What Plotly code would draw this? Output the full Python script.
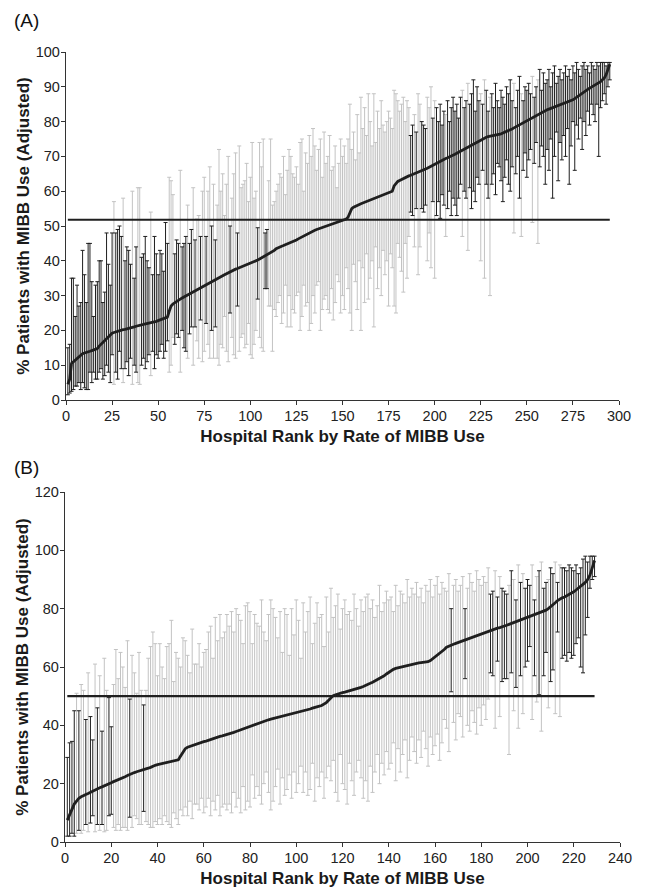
import plotly.graph_objects as go

# ---------------- Panel A data (hospital rank order) ----------------
a_est = [
    4.5, 6, 10.5, 11, 11.5, 12, 12.5, 13, 13.3, 13.5,
    13.6, 13.8, 14, 14.2, 14.4, 14.6, 14.8, 15.5, 16, 16.7,
    17.3, 17.8, 18.3, 18.8, 19.2, 19.4, 19.6, 19.8, 20, 20.1,
    20.2, 20.3, 20.4, 20.5, 20.6, 20.8, 21, 21.2, 21.4, 21.5,
    21.6, 21.7, 21.8, 21.9, 22, 22.1, 22.2, 22.4, 22.6, 22.8,
    23, 23.2, 23.4, 23.6, 23.8, 25.5, 27, 27.6, 28, 28.4,
    28.7, 29, 29.3, 29.6, 29.9, 30.2, 30.5, 30.8, 31.1, 31.4,
    31.7, 32, 32.3, 32.6, 32.9, 33.2, 33.5, 33.8, 34.1, 34.3,
    34.5, 34.8, 35.1, 35.4, 35.7, 36, 36.3, 36.6, 36.9, 37.2,
    37.4, 37.6, 37.8, 38, 38.2, 38.4, 38.6, 38.8, 39, 39.2,
    39.4, 39.6, 39.9, 40.2, 40.5, 40.8, 41.1, 41.4, 41.7, 42,
    42.3, 42.6, 43, 43.5, 43.8, 44, 44.2, 44.4, 44.6, 44.8,
    45, 45.2, 45.5, 45.8, 46, 46.3, 46.6, 46.9, 47.2, 47.5,
    47.8, 48.1, 48.4, 48.6, 48.8, 49, 49.2, 49.4, 49.6, 49.8,
    50, 50.1, 50.2, 50.4, 50.6, 50.8, 51, 51.2, 51.4, 51.6,
    51.8, 52, 52.5, 54, 55, 55.4, 55.7, 56, 56.2, 56.4,
    56.6, 56.8, 57, 57.2, 57.5, 57.8, 58, 58.2, 58.4, 58.6,
    58.8, 59, 59.2, 59.4, 59.6, 59.8, 60, 61.5, 62.3, 62.8,
    63.1, 63.4, 63.7, 64, 64.2, 64.4, 64.6, 64.8, 65, 65.2,
    65.4, 65.6, 65.8, 66, 66.3, 66.6, 66.9, 67.2, 67.5, 67.8,
    68.1, 68.4, 68.7, 69, 69.2, 69.4, 69.6, 69.8, 70, 70.3,
    70.6, 70.9, 71.2, 71.5, 71.8, 72.1, 72.4, 72.7, 73, 73.3,
    73.6, 73.9, 74.2, 74.5, 74.8, 75.1, 75.3, 75.5, 75.7, 75.8,
    75.9, 76, 76.1, 76.2, 76.3, 76.5, 76.7, 76.9, 77.1, 77.3,
    77.6, 77.9, 78.2, 78.5, 78.8, 79.1, 79.4, 79.7, 80, 80.3,
    80.6, 80.9, 81.2, 81.5, 81.8, 82.1, 82.4, 82.7, 83, 83.2,
    83.4, 83.6, 83.8, 84, 84.2, 84.4, 84.6, 84.8, 85, 85.2,
    85.4, 85.6, 85.8, 86, 86.3, 86.6, 87, 87.4, 87.8, 88.2,
    88.6, 89, 89.3, 89.6, 89.9, 90.2, 90.5, 90.8, 91.1, 91.5,
    92, 92.5, 93.5, 95, 96.5,
]
a_hi = [
    15, 16, 35, 35, 24, 33, 27, 28, 43, 36,
    28, 45, 45, 34, 24, 33, 34, 40, 40, 28,
    31, 48, 39, 33, 48, 57, 48, 49, 50, 47,
    58, 40, 44, 43, 39, 60, 35, 44, 61, 61,
    41, 42, 47, 40, 38, 54, 36, 47, 42, 36,
    43, 42, 37, 51, 45, 64, 63, 59, 42, 46,
    45, 66, 44, 45, 47, 56, 45, 49, 61, 46,
    52, 53, 47, 60, 64, 47, 60, 67, 50, 62,
    46, 56, 72, 60, 65, 53, 62, 70, 50, 58,
    65, 71, 48, 73, 61, 62, 63, 68, 57, 64,
    74, 58, 60, 49.5, 74, 67, 75, 48, 49, 63,
    75, 56, 57, 60, 62, 65, 64, 70, 59, 66,
    72, 70, 65, 64, 67, 62, 74, 75, 60, 71,
    68, 76, 70, 78, 73, 66, 72, 75, 64, 77,
    68, 70, 76, 66, 67, 73, 61, 68, 75, 70,
    73, 68, 75, 85, 72, 77, 69, 82, 71, 87,
    78, 84, 76, 88, 80, 73, 88, 74, 83, 78,
    86, 79, 77, 80, 83, 81, 78, 89, 88, 86,
    83, 85, 87, 80, 86, 84, 76, 79, 82, 77,
    88, 85, 80, 79, 78, 87, 84, 90, 81, 86,
    84, 80, 85, 79, 83, 82, 86, 80, 84, 87,
    83, 85, 81, 87, 89, 84, 86, 91, 85, 88,
    92, 83, 90, 86, 88, 85, 92, 89, 83, 87,
    88, 84, 91, 86, 84, 89, 87, 85, 90, 88,
    92, 86, 91, 84, 89, 93, 88, 86, 90, 89,
    91, 88, 93, 87, 90, 92, 95, 89, 94, 91,
    92, 95, 90, 94, 96, 91, 93, 95, 92, 94,
    96, 93, 95, 92, 96, 94, 97, 95, 93, 96,
    97, 95, 96, 94, 97, 96, 95, 97, 96, 97,
    97, 97, 96, 97, 97,
]
a_lo = [
    1.5, 2, 2.5, 3, 4, 4, 5, 3, 5, 3.5,
    3, 3, 8, 5, 8, 6, 6, 8, 9, 6,
    7, 10, 8, 5, 13, 4.5, 8, 6, 14, 9,
    5, 9, 11, 7, 12, 4.5, 10, 8, 5, 4.5,
    10, 12, 9, 11, 13, 7, 14, 9, 13, 12,
    14, 16, 12, 14, 17, 8, 10, 18, 16, 19,
    18, 8, 20, 15, 14, 12, 19, 21, 10, 21,
    17, 12, 23, 11, 14, 22, 16, 12, 20, 12,
    21, 12, 10, 16, 15, 24, 14, 11, 25, 18,
    13, 12, 27, 14, 18, 19, 15, 16, 22, 13,
    12, 16, 20, 29, 18, 15, 14, 32, 32, 27,
    27, 14, 26, 24, 28, 30, 22, 25, 33, 21,
    30, 21, 26, 25, 30, 31, 20, 24, 33, 27,
    28, 20, 22, 30, 25, 33, 34, 20, 26, 29,
    30, 26, 25, 32, 23, 28, 36, 34, 25, 30,
    26, 38, 32, 25, 20, 39, 34, 26, 40, 20,
    38, 28, 42, 29, 35, 40, 21, 44, 32, 38,
    30, 43, 36, 40, 27, 42, 38, 27, 25, 45,
    41, 37, 31, 45, 35, 47, 54, 53, 44, 55,
    36, 44, 55, 54, 56, 40, 48, 38, 57, 35,
    53, 57, 52.2, 59, 56, 47, 55, 60, 53, 58,
    56, 53, 58, 62, 47, 60, 58, 43, 61, 55,
    60, 57, 64, 62, 40, 66, 35, 62, 58, 30,
    62, 65, 59, 68, 67, 63, 57, 64, 69, 62,
    60, 67, 48, 65, 70, 58, 47, 66, 71, 64,
    69, 72, 51, 68, 74, 45, 67, 73, 70, 62,
    72, 66, 75, 58, 70, 77, 63, 74, 69, 76,
    70, 78, 62, 73, 80, 66, 79, 75, 81, 72,
    80, 76, 83, 79, 85, 82, 80, 85, 70, 84,
    86, 88, 85, 90, 92,
]
a_mean = 51.8

# ---------------- Panel B data (hospital rank order) ----------------
b_est = [
    7.5, 9.5, 11.5, 13, 14, 15, 15.5, 16, 16.3, 16.6,
    17, 17.5, 18, 18.3, 18.6, 18.9, 19.2, 19.5, 19.9, 20.3,
    20.7, 21, 21.3, 21.6, 22, 22.4, 22.8, 23.2, 23.5, 23.8,
    24.1, 24.3, 24.5, 24.7, 25, 25.3, 25.6, 26, 26.3, 26.5,
    26.7, 26.9, 27.1, 27.3, 27.5, 27.7, 27.9, 28, 28.2, 29.5,
    31, 32, 32.5, 32.8, 33.1, 33.4, 33.7, 34, 34.2, 34.4,
    34.6, 34.9, 35.2, 35.5, 35.8, 36, 36.2, 36.4, 36.6, 36.8,
    37, 37.3, 37.6, 37.9, 38.2, 38.5, 38.8, 39, 39.2, 39.5,
    39.8, 40.1, 40.4, 40.7, 41, 41.3, 41.6, 41.9, 42.1, 42.3,
    42.5, 42.7, 42.9, 43, 43.2, 43.4, 43.6, 43.8, 44, 44.2,
    44.4, 44.6, 44.8, 45, 45.3, 45.6, 45.9, 46.2, 46.4, 46.6,
    46.8, 47.2, 47.8, 48.6, 49.5, 50.2, 50.5, 50.8, 51, 51.2,
    51.4, 51.6, 51.8, 52, 52.2, 52.5, 52.8, 53, 53.3, 53.6,
    54, 54.4, 54.8, 55.2, 55.6, 56, 56.5, 57, 57.6, 58.2,
    58.8, 59.2, 59.5, 59.7, 59.9, 60.1, 60.3, 60.5, 60.8, 61,
    61.2, 61.3, 61.4, 61.5, 61.6, 61.7, 61.8, 62.2, 62.8, 63.6,
    64.3, 64.8, 65.2, 66, 66.8, 67.2, 67.5, 67.8, 68.1, 68.4,
    68.7, 69, 69.3, 69.6, 69.9, 70.2, 70.5, 70.8, 71.1, 71.4,
    71.7, 72, 72.3, 72.6, 72.9, 73.1, 73.3, 73.5, 73.7, 74,
    74.3, 74.6, 74.9, 75.2, 75.5, 75.8, 76.1, 76.4, 76.7, 77,
    77.3, 77.6, 77.9, 78.2, 78.5, 78.8, 79.1, 79.5, 80, 80.6,
    81.2, 82, 82.8, 83.4, 83.7, 84, 84.4, 84.8, 85.3, 85.8,
    86.4, 87, 87.6, 88.3, 89, 90, 91.5, 94, 96.5,
]
b_hi = [
    29, 34, 34.5, 45, 51, 45, 54, 52, 42, 58,
    43, 35, 61, 46, 57, 38, 63, 52, 49.5, 39.5,
    54, 66, 56, 65, 60, 53, 69, 49, 64, 58,
    51, 65, 52, 47, 52, 63, 67, 72, 68, 57,
    68, 60, 56, 67, 68, 76, 55, 65, 63, 60,
    70, 69, 64, 58, 73, 61, 61, 68, 60, 65,
    66, 72, 74, 63, 77, 69, 78, 70, 72, 78,
    74, 79, 72, 80, 78, 76, 68, 81, 82, 79,
    68, 78, 75, 74, 83, 72, 69, 78, 83, 80,
    77, 70, 79, 65, 80, 78, 64, 80, 71, 83,
    76, 63, 82, 72, 79, 84, 68, 75, 82, 77,
    78, 67, 84, 72, 87, 77, 81, 85, 73, 80,
    83, 78, 79, 76, 85, 80, 74, 83, 79, 84,
    85, 80, 83, 77, 81, 88, 79, 82, 86, 83,
    84, 79, 88, 81, 86, 85, 82, 90, 84, 87,
    85, 89, 84, 87, 82, 88, 86, 90, 84, 88,
    91, 85, 89, 87, 86, 92, 80, 88, 90, 86,
    88, 91, 80, 87, 92, 89, 86, 93, 90, 88,
    91, 89, 94, 85, 86, 93, 84, 91, 87, 86,
    85, 88, 93, 90, 83, 95, 89, 92, 87, 90,
    88, 95, 83, 91, 93, 96, 87, 89, 90, 94,
    92, 96, 89, 95, 94, 94, 93, 95, 94, 93,
    95, 92, 94, 97, 98, 96, 98, 98, 98,
]
b_lo = [
    2, 2, 3, 2, 3, 4, 3, 4, 6, 3.5,
    6.5, 9, 3.5, 6, 4, 6, 3.5, 4, 9, 9.5,
    5, 4, 6, 4, 5, 5, 4, 8.5, 5, 9,
    8, 6, 6, 10.5, 7, 6, 5, 5, 7, 6,
    8, 6, 9, 7, 6, 5, 10, 8, 6, 11,
    9, 12, 9, 14, 8, 13, 13, 11, 15, 10,
    12, 15, 9, 14, 11, 16, 9, 12, 13, 11,
    13, 10, 17, 12, 15, 10, 19, 11, 14, 12,
    23, 15, 19, 16, 13, 20, 24, 17, 11, 14,
    19, 25, 13, 22, 16, 18, 23, 15, 24, 17,
    20, 26, 17, 24, 16, 18, 27, 14, 22, 19,
    24, 15, 22, 26, 21, 28, 17, 14, 30, 20,
    18, 13, 27, 21, 16, 24, 28, 22, 15, 21,
    14, 26, 17, 24, 30, 20, 27, 23, 31, 25,
    27, 34, 21, 32, 24, 30, 35, 22, 28, 36,
    31, 27, 35, 29, 38, 32, 26, 36, 30, 33,
    37, 28, 34, 42, 39, 31, 51.5, 41, 35, 44,
    43, 36, 56, 40, 38, 45, 41, 37, 46, 40,
    47, 42, 49, 58, 57, 39, 62, 43, 55, 56,
    56, 30, 58, 45, 53, 39, 57, 44, 60, 62,
    67, 42, 57, 48, 50.5, 38, 57, 65, 46, 55,
    59, 44, 72, 43, 63, 64, 62, 65, 63, 64,
    68, 70, 60, 58, 71, 77, 87, 90, 91,
]
b_mean = 50.0

a_xticks = [0, 25, 50, 75, 100, 125, 150, 175, 200, 225, 250, 275, 300]
a_yticks = [0, 10, 20, 30, 40, 50, 60, 70, 80, 90, 100]
b_xticks = [0, 20, 40, 60, 80, 100, 120, 140, 160, 180, 200, 220, 240]
b_yticks = [0, 20, 40, 60, 80, 100, 120]

y_title = "% Patients with MIBB Use (Adjusted)"
x_title = "Hospital Rank by Rate of MIBB Use"

GREY = "#c3c3c3"
DARK = "#1f1f1f"
FONT = "Liberation Sans, Arial, Helvetica, sans-serif"

fig = go.Figure()


def add_panel(est, lo, hi, mean, xa, ya):
    n = len(est)
    assert len(lo) == n and len(hi) == n
    ranks = list(range(1, n + 1))
    sig = [(h < mean) or (l > mean) for l, h in zip(lo, hi)]

    def sub(flag):
        idx = [i for i in range(n) if sig[i] == flag]
        return ([ranks[i] for i in idx], [est[i] for i in idx],
                [hi[i] - est[i] for i in idx], [est[i] - lo[i] for i in idx])

    gx, gy, gp, gm = sub(False)
    fig.add_trace(go.Scatter(
        x=gx, y=gy, mode="markers", xaxis=xa, yaxis=ya, showlegend=False,
        marker=dict(size=1, color="rgba(0,0,0,0)"),
        error_y=dict(type="data", symmetric=False, array=gp, arrayminus=gm,
                     color=GREY, thickness=1, width=2),
        hoverinfo="skip"))
    fig.add_trace(go.Scatter(
        x=[ranks[0], ranks[-1]], y=[mean, mean], mode="lines", xaxis=xa, yaxis=ya,
        showlegend=False, line=dict(color=DARK, width=2.2), hoverinfo="skip"))
    bx, by, bp, bm = sub(True)
    fig.add_trace(go.Scatter(
        x=bx, y=by, mode="markers", xaxis=xa, yaxis=ya, showlegend=False,
        marker=dict(size=1, color="rgba(0,0,0,0)"),
        error_y=dict(type="data", symmetric=False, array=bp, arrayminus=bm,
                     color=DARK, thickness=1, width=2),
        hoverinfo="skip"))
    fig.add_trace(go.Scatter(
        x=ranks, y=est, mode="lines", xaxis=xa, yaxis=ya, showlegend=False,
        line=dict(color=DARK, width=2.8), hoverinfo="skip"))


add_panel(a_est, a_lo, a_hi, a_mean, "x", "y")
add_panel(b_est, b_lo, b_hi, b_mean, "x2", "y2")

# the page body adds an 8px offset; lay out in window pixels minus that
OFF = 8
W, H = 647 - OFF, 888 - OFF


def px(x):
    return (x - OFF) / W


def py(y):
    return 1 - (y - OFF) / H


common_axis = dict(showline=True, linecolor="#333", linewidth=1.3, ticks="outside",
                   ticklen=4, tickcolor="#333", tickwidth=1.2, showgrid=False,
                   zeroline=False, automargin=False, ticklabelstandoff=-2,
                   tickfont=dict(family=FONT, size=14.5, color="#222"))
title_font = dict(family=FONT, size=17, color="#1a1a1a")

fig.update_layout(
    width=W, height=H, margin=dict(l=0, r=0, t=0, b=0),
    paper_bgcolor="white", plot_bgcolor="white",
    xaxis=dict(domain=[px(66), px(619)], anchor="y", range=[0, 300],
               tickvals=a_xticks, title=dict(text="<b>" + x_title + "</b>", font=title_font, standoff=7),
               **common_axis),
    yaxis=dict(domain=[py(400), py(52)], anchor="x", range=[0, 100],
               tickvals=a_yticks, title=dict(text="<b>" + y_title + "</b>", font=title_font, standoff=1),
               **common_axis),
    xaxis2=dict(domain=[px(65), px(620)], anchor="y2", range=[0, 240],
                tickvals=b_xticks, title=dict(text="<b>" + x_title + "</b>", font=title_font, standoff=7),
                **common_axis),
    yaxis2=dict(domain=[py(842), py(492)], anchor="x2", range=[0, 120],
                tickvals=b_yticks, title=dict(text="<b>" + y_title + "</b>", font=title_font, standoff=1),
                **common_axis),
    annotations=[
        dict(text="(A)", x=px(12), y=py(21), xref="paper", yref="paper",
             xanchor="left", yanchor="middle", showarrow=False,
             font=dict(family=FONT, size=19, color="#111")),
        dict(text="(B)", x=px(12), y=py(467), xref="paper", yref="paper",
             xanchor="left", yanchor="middle", showarrow=False,
             font=dict(family=FONT, size=19, color="#111")),
    ],
)

fig.write_html("out.html")
